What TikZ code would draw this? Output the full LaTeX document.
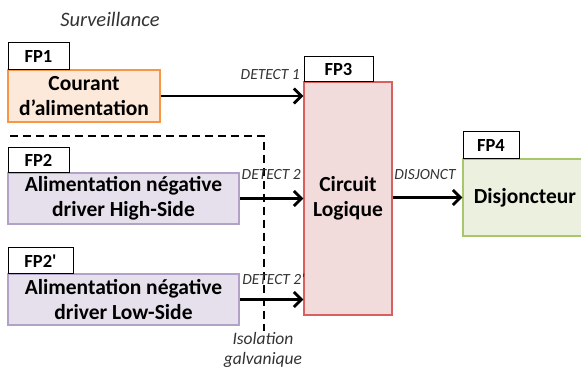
\documentclass[tikz,border=0pt]{standalone}
\usepackage{fontspec}
\setmainfont{Carlito}[Ligatures=TeXOff]
\usetikzlibrary{arrows.meta}
\definecolor{orFill}{HTML}{FDE9D9}
\definecolor{orLine}{HTML}{F79646}
\definecolor{puFill}{HTML}{E6E0EC}
\definecolor{puLine}{HTML}{B3A2C7}
\definecolor{reFill}{HTML}{F2DCDB}
\definecolor{reLine}{HTML}{D9605E}
\definecolor{grFill}{HTML}{EBF1DE}
\definecolor{grLine}{HTML}{A8C66C}
\definecolor{lblText}{HTML}{333333}
\tikzset{
  fpbox/.style={draw=black, line width=1pt, fill=white, inner sep=0pt, font=\fontsize{18.5}{21}\selectfont\bfseries},
  blockbox/.style={line width=1.4pt, inner sep=0pt, align=center, font=\fontsize{21.5}{25.5}\selectfont\bfseries},
  sig/.style={line width=2.8pt, -{Straight Barb[length=7.5pt,width=15pt,line width=2.8pt]}},
  siglbl/.style={font=\fontsize{15.5}{18}\selectfont\itshape, text=lblText, inner sep=0pt},
  note/.style={font=\fontsize{17.5}{20.5}\selectfont\itshape, text=lblText, inner sep=0pt, align=center},
}
\begin{document}
\begin{tikzpicture}[x=1pt,y=-1pt]
\useasboundingbox (0,0) rectangle (581,371);
% title
\node[note, font=\fontsize{20.5}{24}\selectfont\itshape] (surv) at (110,19) {Surveillance};
% blocks
\node[blockbox, draw=orLine, fill=orFill, minimum width=152pt, minimum height=52pt] (cour) at (84,96) {Courant\\d’alimentation};
\node[fpbox, minimum width=61pt, minimum height=27pt] (fp1) at (38.5,56.5) {FP1};
\node[blockbox, draw=puLine, fill=puFill, minimum width=231pt, minimum height=51pt] (hs) at (123.5,198.5) {Alimentation négative\\driver High-Side};
\node[fpbox, minimum width=61pt, minimum height=25pt] (fp2) at (38.5,160.5) {FP2};
\node[blockbox, draw=puLine, fill=puFill, minimum width=231pt, minimum height=51pt] (ls) at (123.5,299.5) {Alimentation négative\\driver Low-Side};
\node[fpbox, minimum width=65pt, minimum height=26pt] (fp2b) at (40.5,261) {FP2'};
\node[blockbox, draw=reLine, fill=reFill, minimum width=88pt, minimum height=233pt] (cl) at (348,198.5) {Circuit\\Logique};
\node[fpbox, minimum width=69pt, minimum height=25pt] (fp3) at (338.5,69.5) {FP3};
\node[blockbox, draw=grLine, fill=grFill, minimum width=124pt, minimum height=77pt, text width=117pt] (dj) at (525,197.5) {Disjoncteur};
\node[fpbox, minimum width=56pt, minimum height=27pt] (fp4) at (491,145.5) {FP4};
% isolation
\coordinate (isoA) at (10,136);
\coordinate (isoB) at (264,136);
\coordinate (isoC) at (264,331);
\draw[line width=1.5pt, dash pattern=on 8pt off 5pt] (isoA) -- (isoB) -- (isoC);
\node[note] (iso) at (263,350) {Isolation\\galvanique};
% signals
\draw[sig] (cour.east) -- (cl.west |- cour.east);
\draw[sig] (hs.east) -- (cl.west |- hs.east);
\draw[sig] (ls.east) -- (cl.west |- ls.east);
\draw[sig] (cl.east |- dj.west) -- (dj.west);
\node[siglbl, anchor=east] (d1) at (300,75) {DETECT 1};
\node[siglbl, anchor=east] (d2) at (301,175) {DETECT 2};
\node[siglbl, anchor=east] (d3) at (305,279) {DETECT 2'};
\node[siglbl] (dsj) at (425,175) {DISJONCT};
\end{tikzpicture}
\end{document}
